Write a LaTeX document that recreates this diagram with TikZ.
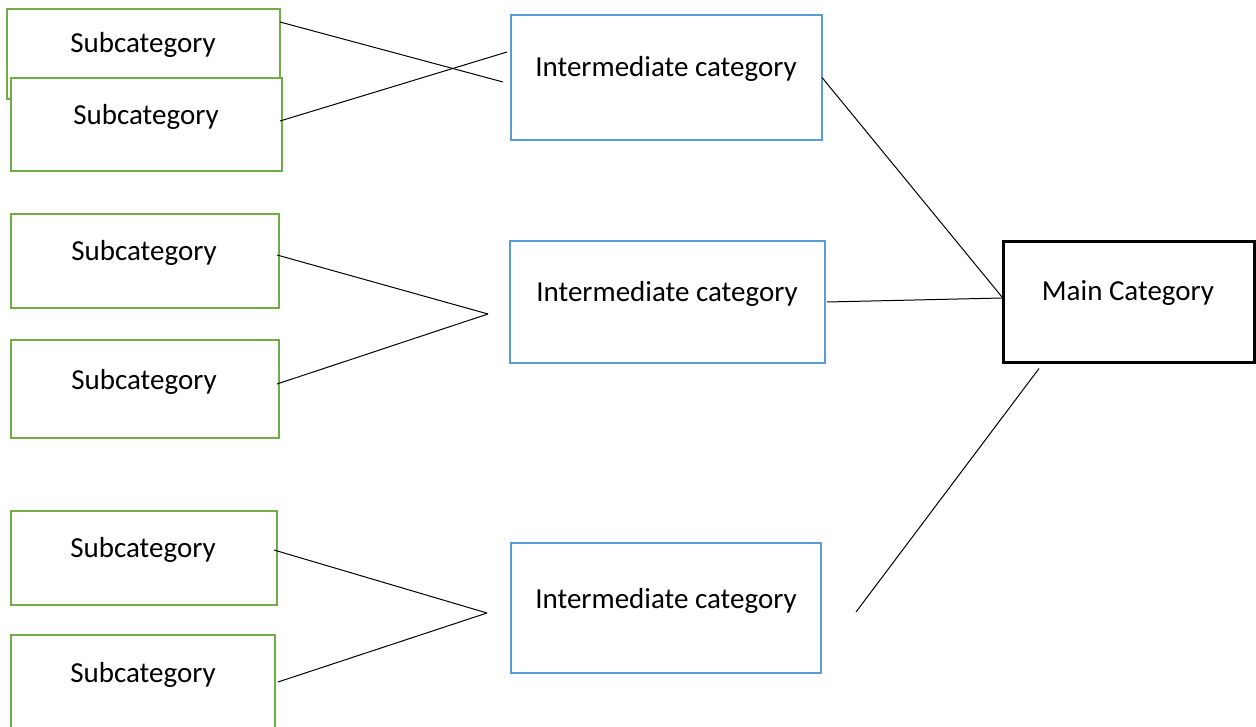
\documentclass[tikz,border=0pt]{standalone}
\usepackage{fontspec}
\setmainfont{Carlito}
\usetikzlibrary{calc}
\definecolor{subgreen}{RGB}{112,173,71}
\definecolor{midblue}{RGB}{91,155,213}
\begin{document}
\begin{tikzpicture}[x=1pt,y=-1pt,
  subbox/.style={draw=subgreen, line width=2pt, fill=white, inner sep=0pt, outer sep=0pt},
  midbox/.style={draw=midblue, line width=2pt, fill=white, inner sep=0pt, outer sep=0pt},
  mainbox/.style={draw=black, line width=3pt, fill=white, inner sep=0pt, outer sep=0pt},
  lbl/.style={anchor=base, inner sep=0pt, font=\fontsize{29}{34}\selectfont},
  conn/.style={draw=black, line width=1pt}]
\useasboundingbox (0,0) rectangle (1256,727);
% subcategory boxes
\node[subbox, minimum width=273pt, minimum height=90pt] (a1) at (143.5,54) {};
\node[lbl] (a1t) at (143,53) {Subcategory};
\node[subbox, minimum width=271pt, minimum height=93pt] (a2) at (146.5,124.5) {};
\node[lbl] (a2t) at (146,125) {Subcategory};
\node[subbox, minimum width=268pt, minimum height=94pt] (b1) at (145,261) {};
\node[lbl] (b1t) at (144,261) {Subcategory};
\node[subbox, minimum width=268pt, minimum height=98pt] (b2) at (145,389) {};
\node[lbl] (b2t) at (144,389) {Subcategory};
\node[subbox, minimum width=266pt, minimum height=94pt] (c1) at (144,558) {};
\node[lbl] (c1t) at (143,557) {Subcategory};
\node[subbox, minimum width=264pt, minimum height=110pt] (c2) at (143,690) {};
\node[lbl] (c2t) at (143,682) {Subcategory};
% intermediate boxes
\node[midbox, minimum width=311pt, minimum height=125pt] (i1) at (666.5,77.5) {};
\node[lbl] (i1t) at (666,77) {Intermediate category};
\node[midbox, minimum width=315pt, minimum height=122pt] (i2) at (667.5,302) {};
\node[lbl] (i2t) at (667,302) {Intermediate category};
\node[midbox, minimum width=310pt, minimum height=130pt] (i3) at (666,608) {};
\node[lbl] (i3t) at (666,608) {Intermediate category};
% main box
\node[mainbox, minimum width=251pt, minimum height=121pt] (m) at (1129,302.5) {};
\node[lbl] (mt) at (1128,301) {Main Category};
% free ends
\coordinate (i1p) at ($(i1.west)+(-8,4.5)$);
\coordinate (i1q) at ($(i1.west)+(-4,-25.5)$);
\coordinate (i2p) at ($(i2.west)+(-22,12)$);
\coordinate (i3p) at ($(i3.west)+(-24,5)$);
\coordinate (i3q) at ($(i3.east)+(35,4)$);
\coordinate (mq) at ($(m.south)+(-90,5.5)$);
% connectors
\draw[conn] ($(a1.north east)+(0,13)$) -- (i1p);
\draw[conn] ($(a2.east)+(-2,-3.5)$) -- (i1q);
\draw[conn] ($(b1.east)+(-2,-6)$) -- (i2p);
\draw[conn] ($(b2.east)+(-2,-5)$) -- (i2p);
\draw[conn] ($(c1.east)+(-3,-8)$) -- (i3p);
\draw[conn] ($(c2.north east)+(3,47)$) -- (i3p);
\draw[conn] (i1.east) -- ($(m.west)+(-1.5,-5.5)$);
\draw[conn] ($(i2.east)+(2,0)$) -- ($(m.west)+(-1.5,-4.5)$);
\draw[conn] (mq) -- (i3q);
\end{tikzpicture}
\end{document}
